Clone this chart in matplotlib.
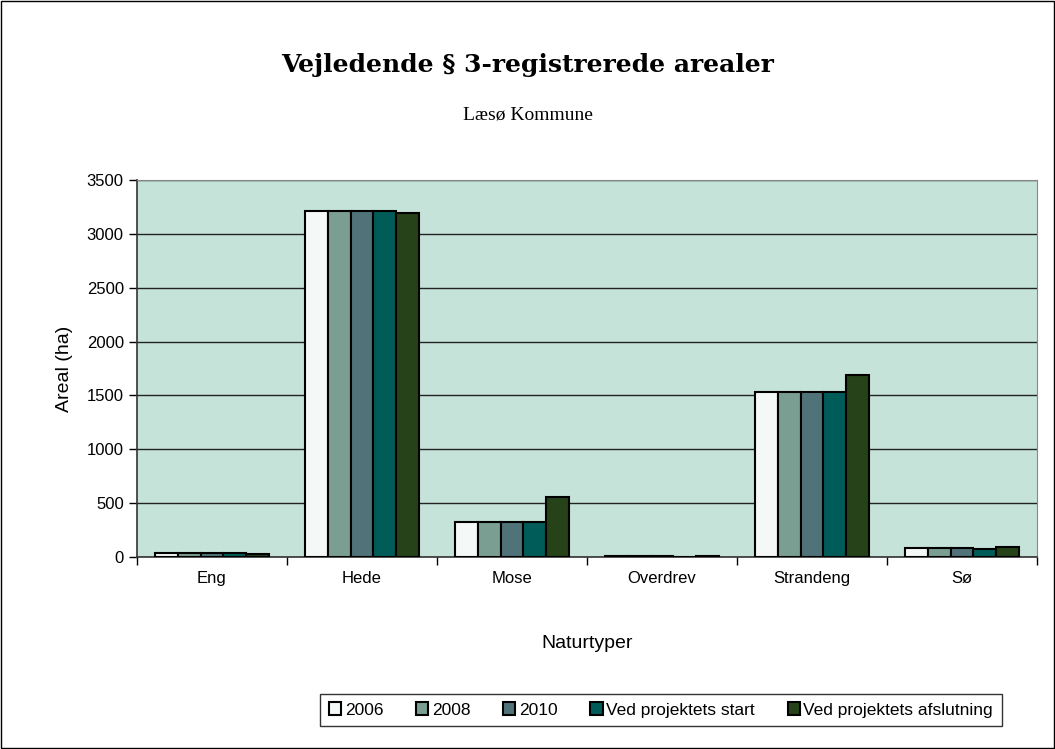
import numpy as np
import matplotlib.pyplot as plt
from matplotlib.patches import Rectangle

# data
categories = ['Eng', 'Hede', 'Mose', 'Overdrev', 'Strandeng', 'Sø']
series_names = ['2006', '2008', '2010', 'Ved projektets start', 'Ved projektets afslutning']
v2006 = [35, 3210, 325, 12, 1532, 84]
v2008 = [35, 3210, 325, 12, 1532, 84]
v2010 = [35, 3210, 325, 12, 1532, 84]
vstart = [37, 3215, 327, 0, 1535, 77]
vslut = [28, 3190, 560, 12, 1690, 96]
colors = ['#F4F9F7', '#7A9E92', '#50737A', '#005C58', '#254219']

plt.rcParams['font.family'] = ['Liberation Sans', 'DejaVu Sans']

fig = plt.figure(figsize=(10.55, 7.49), dpi=100)
ax = fig.add_axes([137 / 1055, 1 - 557 / 749, 900 / 1055, 377 / 749])
ax.set_facecolor('#C6E3D9')

x = np.arange(len(categories))
w = 0.153
allvals = [v2006, v2008, v2010, vstart, vslut]
for i, vals in enumerate(allvals):
    ax.bar(x + (i - 2) * w, vals, width=w, color=colors[i], edgecolor='black',
           linewidth=1.5, label=series_names[i], zorder=3)

ax.set_xlim(-0.5, len(categories) - 0.5)
ax.set_ylim(0, 3500)
ax.set_yticks(np.arange(0, 3501, 500))
ax.yaxis.grid(True, color='#222222', linewidth=1, zorder=1)
ax.set_axisbelow(True)
ax.set_xticks(x)
ax.set_xticklabels(categories, fontsize=12)
ax.tick_params(axis='x', length=0, pad=10)
ax.set_xticks(np.arange(-0.5, len(categories)), minor=True)
ax.tick_params(axis='x', which='minor', length=6, width=1, direction='out')
ax.tick_params(axis='y', labelsize=12, length=6, width=1, direction='out')
for s in ['top', 'right']:
    ax.spines[s].set_color('#888888')
for s in ['left', 'bottom']:
    ax.spines[s].set_color('#333333')
    ax.spines[s].set_linewidth(1.2)

ax.set_ylabel('Areal (ha)', fontsize=14, labelpad=10)
ax.set_xlabel('Naturtyper', fontsize=14, labelpad=35)

fig.text(0.5, 1 - 65 / 749, 'Vejledende § 3-registrerede arealer', ha='center', va='center',
         fontsize=18, fontweight='bold', family=['DejaVu Serif'])
fig.text(0.5, 1 - 115 / 749, 'Læsø Kommune', ha='center', va='center',
         fontsize=14, family=['Liberation Serif'])

leg = fig.legend(loc='center', bbox_to_anchor=(661 / 1055, 1 - 710 / 749), ncol=5,
                 frameon=True, fancybox=False, edgecolor='black', fontsize=12.5,
                 handlelength=0.7, handleheight=0.7, handletextpad=0.2, columnspacing=1.9,
                 borderpad=0.5)
leg.get_frame().set_linewidth(1)

fig.patches.append(Rectangle((0.001, 0.001), 0.998, 0.998, transform=fig.transFigure,
                             fill=False, edgecolor='black', linewidth=1))

fig.savefig('out.png', dpi=100)
